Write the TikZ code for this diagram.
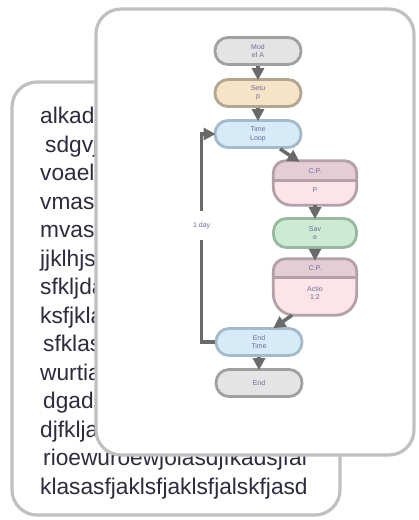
\documentclass[tikz,border=0pt]{standalone}
\usepackage{fontspec}
\setmainfont{Liberation Sans}
\usetikzlibrary{arrows.meta}

\definecolor{cardline}{HTML}{C0C0C0}
\definecolor{bodytext}{HTML}{2C2C3E}
\definecolor{flowtext}{HTML}{6C6C98}
\definecolor{greyfill}{HTML}{E4E4E4}
\definecolor{greyline}{HTML}{A0A0A0}
\definecolor{setupfill}{HTML}{F6E3C8}
\definecolor{setupline}{HTML}{B2A692}
\definecolor{loopfill}{HTML}{D6EAF8}
\definecolor{loopline}{HTML}{A4BACB}
\definecolor{cphead}{HTML}{E4CDD5}
\definecolor{cpbody}{HTML}{FCE4E8}
\definecolor{cpline}{HTML}{B4A0A8}
\definecolor{savefill}{HTML}{CDEAD4}
\definecolor{saveline}{HTML}{9AB7A0}
\definecolor{arrowgrey}{HTML}{6A6A6A}

\tikzset{
  card/.style={draw=cardline, line width=3.2pt, fill=white, rounded corners=25pt},
  flowfont/.style={font=\fontsize{7}{8.5}\selectfont, text=flowtext, align=center},
  stadium/.style={flowfont, line width=2.8pt, rounded corners=13pt,
    minimum width=86pt, minimum height=27pt, inner sep=0pt},
  greybox/.style={stadium, draw=greyline, fill=greyfill},
  setupbox/.style={stadium, draw=setupline, fill=setupfill},
  loopbox/.style={stadium, draw=loopline, fill=loopfill},
  savebox/.style={stadium, draw=saveline, fill=savefill, minimum width=83pt, minimum height=29pt},
  cpframe/.style={minimum width=83pt, inner sep=0pt},
  cpedge/.style={draw=cpline, line width=2.8pt},
  flow/.style={draw=arrowgrey, line width=3.5pt, shorten >=-2pt,
    -{Triangle[width=12pt,length=12pt]}},
}

% outline of a checkpoint box (#1): top corner radius #2, bottom corner radius #3
\newcommand{\cpoutline}[3]{%
  ([shift={(0,#2)}]#1.north west)
  .. controls ([shift={(0,0.45*#2)}]#1.north west) and ([shift={(0.45*#2,0)}]#1.north west)
  .. ([shift={(#2,0)}]#1.north west)
  -- ([shift={(-#2,0)}]#1.north east)
  .. controls ([shift={(-0.45*#2,0)}]#1.north east) and ([shift={(0,0.45*#2)}]#1.north east)
  .. ([shift={(0,#2)}]#1.north east)
  -- ([shift={(0,-#3)}]#1.south east)
  .. controls ([shift={(0,-0.45*#3)}]#1.south east) and ([shift={(-0.45*#3,0)}]#1.south east)
  .. ([shift={(-#3,0)}]#1.south east)
  -- ([shift={(#3,0)}]#1.south west)
  .. controls ([shift={(0.45*#3,0)}]#1.south west) and ([shift={(0,-0.45*#3)}]#1.south west)
  .. ([shift={(0,-#3)}]#1.south west)
  -- cycle}

% draws a checkpoint box (#1): pink body with a mauve header band #2 tall
\newcommand{\cpbox}[4]{%
  \begin{scope}
    \clip \cpoutline{#1}{#3}{#4};
    \fill[cpbody] (#1.south west) rectangle (#1.north east);
    \fill[cphead] (#1.north west) rectangle ([shift={(0,#2)}]#1.north east);
  \end{scope}
  \draw[cpedge] ([shift={(0,#2)}]#1.north west) -- ([shift={(0,#2)}]#1.north east);
  \draw[cpedge] \cpoutline{#1}{#3}{#4};
}

\begin{document}
\begin{tikzpicture}[x=1pt, y=-1pt]
  \useasboundingbox (0,0) rectangle (419,520);

  % card behind
  \draw[card] (12,82) rectangle (340,515);
  \node[anchor=north west, inner sep=0pt, align=left, text=bodytext,
        font=\fontsize{22.7}{28.5}\selectfont] (bodytxt) at (40,107) {%
    alkadsjfklajsdfkl\\
    \hspace*{5pt}sdgvjkasdfjklas\\
    voaelkdjfaklsdjf\\
    vmasdklfjaslkdf\\
    mvasdjfkalsdjfk\\
    jjklhjsdkfljaskl\\
    sfkljdaslkdfjas\\
    ksfjklasdjfklas\\
    \hspace*{3pt}sfklasdjfklasd\\
    wurtiasdfjklas\\
    \hspace*{3pt}dgadsfjklasdjf\\
    djfkljasdfjklas\\
    \hspace*{3pt}rioewuroewjoiasdjfkadsjfal\\
    klasasfjaklsfjaklsfjalskfjasd};

  % card in front
  \draw[card] (96,9) rectangle (414,455);

  % flow nodes
  \node[greybox]  (modela)   at (258,51)  {Mod\\el A};
  \node[setupbox] (setup)    at (258,93)  {Setu\\p};
  \node[loopbox]  (timeloop) at (258,134) {Time\\Loop};

  \node[cpframe, minimum height=44pt] (cpa) at (315,183) {};
  \cpbox{cpa}{20}{12}{18}
  \node[flowfont] (cpatitle) at ([yshift=-10pt]cpa.north) {C.P.};
  \node[flowfont] (cpatext)  at ([yshift=-29pt]cpa.north) {P};

  \node[savebox] (save) at (315,233) {Sav\\e};

  \node[cpframe, minimum height=56pt] (cpb) at (315,287) {};
  \cpbox{cpb}{19}{12}{21}
  \node[flowfont] (cpbtitle) at ([yshift=-9.5pt]cpb.north) {C.P.};
  \node[flowfont] (cpbtext)  at ([yshift=-34pt]cpb.north) {Actio\\1:2};

  \node[loopbox]  (endtime)  at (259,342) {End\\Time};
  \node[greybox]  (endnode)  at (259,383) {End};

  % connectors
  \draw[flow] (modela) -- (setup);
  \draw[flow] (setup) -- (timeloop);
  \draw[flow] ([xshift=22pt]timeloop.south) -- ([xshift=-17pt]cpa.north);
  \draw[flow] (cpa) -- (save);
  \draw[flow] (save) -- (cpb);
  \draw[flow] ([xshift=-23pt]cpb.south) -- ([xshift=16pt]endtime.north);
  \draw[flow] (endtime) -- (endnode);
  \draw[flow] (endtime.west) -- ++(-13pt,0)
    |- node[pos=0.28, fill=white, flowfont, inner xsep=1pt, inner ysep=11pt] (dayl) {1 day}
    (timeloop.west);
\end{tikzpicture}
\end{document}
